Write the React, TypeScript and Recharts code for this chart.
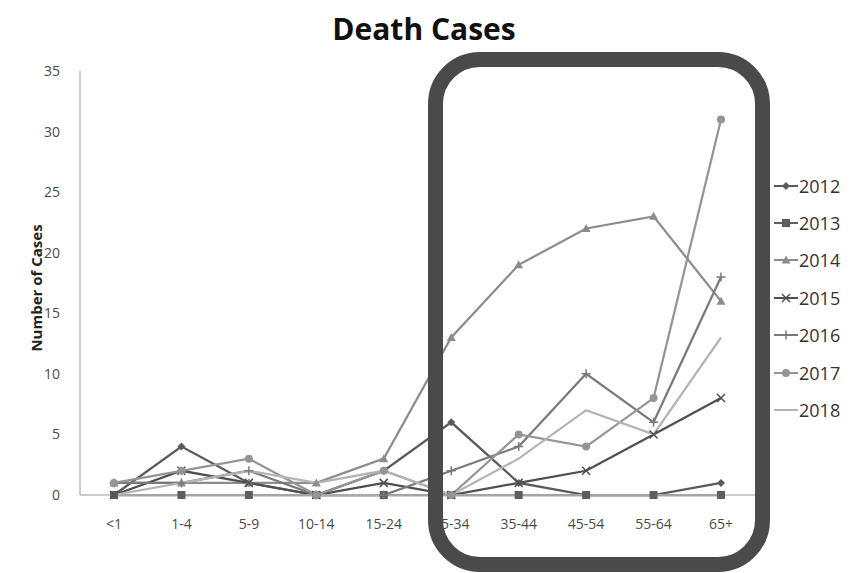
import React from "react";
import { LineChart, Line, XAxis, YAxis } from "recharts";

const ageGroups = ["<1", "1-4", "5-9", "10-14", "15-24", "25-34", "35-44", "45-54", "55-64", "65+"];

const cases2012 = [0, 4, 1, 0, 2, 6, 1, 0, 0, 1];
const cases2013 = [0, 0, 0, 0, 0, 0, 0, 0, 0, 0];
const cases2014 = [1, 1, 1, 1, 3, 13, 19, 22, 23, 16];
const cases2015 = [0, 2, 1, 0, 1, 0, 1, 2, 5, 8];
const cases2016 = [1, 1, 2, 0, 0, 2, 4, 10, 6, 18];
const cases2017 = [1, 2, 3, 0, 2, 0, 5, 4, 8, 31];
const cases2018 = [0, 1, 2, 1, 2, 0, 3, 7, 5, 13];

const yTicks = [0, 5, 10, 15, 20, 25, 30, 35];

type Marker = "diamond" | "square" | "triangle" | "cross" | "plus" | "circle" | "none";

const seriesDefs: { key: string; values: number[]; color: string; marker: Marker }[] = [
  { key: "2012", values: cases2012, color: "#5a5a5a", marker: "diamond" },
  { key: "2013", values: cases2013, color: "#5e5e5e", marker: "square" },
  { key: "2014", values: cases2014, color: "#8c8c8c", marker: "triangle" },
  { key: "2015", values: cases2015, color: "#4f4f4f", marker: "cross" },
  { key: "2016", values: cases2016, color: "#7a7a7a", marker: "plus" },
  { key: "2017", values: cases2017, color: "#959595", marker: "circle" },
  { key: "2018", values: cases2018, color: "#b4b4b4", marker: "none" },
];

const data = ageGroups.map((age, i) => {
  const row: Record<string, string | number> = { age };
  seriesDefs.forEach((s) => {
    row[s.key] = s.values[i];
  });
  return row;
});

function MarkerShape({ cx, cy, marker, color }: { cx: number; cy: number; marker: Marker; color: string }) {
  if (cx == null || cy == null) return null;
  switch (marker) {
    case "diamond":
      return <path d={`M${cx},${cy - 4} L${cx + 4},${cy} L${cx},${cy + 4} L${cx - 4},${cy} Z`} fill={color} />;
    case "square":
      return <rect x={cx - 4} y={cy - 4} width={8} height={8} fill={color} />;
    case "triangle":
      return <path d={`M${cx},${cy - 4.5} L${cx + 4.5},${cy + 3.5} L${cx - 4.5},${cy + 3.5} Z`} fill={color} />;
    case "cross":
      return (
        <path
          d={`M${cx - 4},${cy - 4} L${cx + 4},${cy + 4} M${cx - 4},${cy + 4} L${cx + 4},${cy - 4}`}
          stroke={color}
          strokeWidth={1.5}
        />
      );
    case "plus":
      return (
        <path d={`M${cx - 4.5},${cy} L${cx + 4.5},${cy} M${cx},${cy - 4.5} L${cx},${cy + 4.5}`} stroke={color} strokeWidth={1.5} />
      );
    case "circle":
      return <circle cx={cx} cy={cy} r={4} fill={color} />;
    default:
      return null;
  }
}

function LegendBox() {
  return (
    <div style={{ position: "absolute", left: 774, top: 167, fontFamily: "'Open Sans', sans-serif" }}>
      {seriesDefs.map((s) => (
        <div key={s.key} style={{ display: "flex", alignItems: "center", height: 37.4 }}>
          <svg width={24} height={12}>
            <line x1={0} y1={6} x2={24} y2={6} stroke={s.color} strokeWidth={2} />
            <MarkerShape cx={12} cy={6} marker={s.marker} color={s.color} />
          </svg>
          <span style={{ fontSize: 18, color: "#333", marginLeft: 1 }}>{s.key}</span>
        </div>
      ))}
    </div>
  );
}

export default function App() {
  return (
    <div
      style={{
        position: "fixed",
        left: 0,
        top: 0,
        width: 864,
        height: 573,
        background: "#fff",
        overflow: "hidden",
        fontFamily: "'Open Sans', sans-serif",
      }}
    >
      <div
        style={{
          position: "absolute",
          left: -8,
          width: 864,
          top: 8,
          textAlign: "center",
          fontSize: 30,
          fontWeight: 700,
          color: "#111",
        }}
      >
        Death Cases
      </div>
      <div
        style={{
          position: "absolute",
          left: 36,
          top: 288,
          transform: "translate(-50%, -50%) rotate(-90deg)",
          fontSize: 15,
          fontWeight: 700,
          color: "#222",
          whiteSpace: "nowrap",
        }}
      >
        Number of Cases
      </div>
      <LineChart
        width={864}
        height={573}
        data={data}
        margin={{ top: 71, right: 109, bottom: 48, left: 30 }}
        style={{ position: "absolute", left: 0, top: 0 }}
      >
        <XAxis
          dataKey="age"
          tickLine={false}
          axisLine={{ stroke: "#bdbdbd", strokeWidth: 1.5 }}
          tickMargin={18}
          height={30}
          interval={0}
          padding={{ left: 34, right: 34 }}
          tick={{ fontSize: 14, fill: "#4a4a4a" }}
        />
        <YAxis
          domain={[0, 35]}
          ticks={yTicks}
          width={50}
          tickLine={false}
          axisLine={{ stroke: "#bdbdbd", strokeWidth: 1.5 }}
          tickMargin={14}
          tick={{ fontSize: 14, fill: "#4a4a4a" }}
        />
        {seriesDefs.map((s) => (
          <Line
            key={s.key}
            dataKey={s.key}
            type="linear"
            stroke={s.color}
            strokeWidth={2.25}
            isAnimationActive={false}
            dot={(p: any) => <MarkerShape key={`${s.key}-${p.index}`} cx={p.cx} cy={p.cy} marker={s.marker} color={s.color} />}
            activeDot={false}
          />
        ))}
      </LineChart>
      <LegendBox />
      <div
        style={{
          position: "absolute",
          left: 428,
          top: 52,
          width: 342,
          height: 520,
          boxSizing: "border-box",
          border: "15px solid #4a4a4a",
          borderRadius: 52,
          pointerEvents: "none",
        }}
      />
    </div>
  );
}
